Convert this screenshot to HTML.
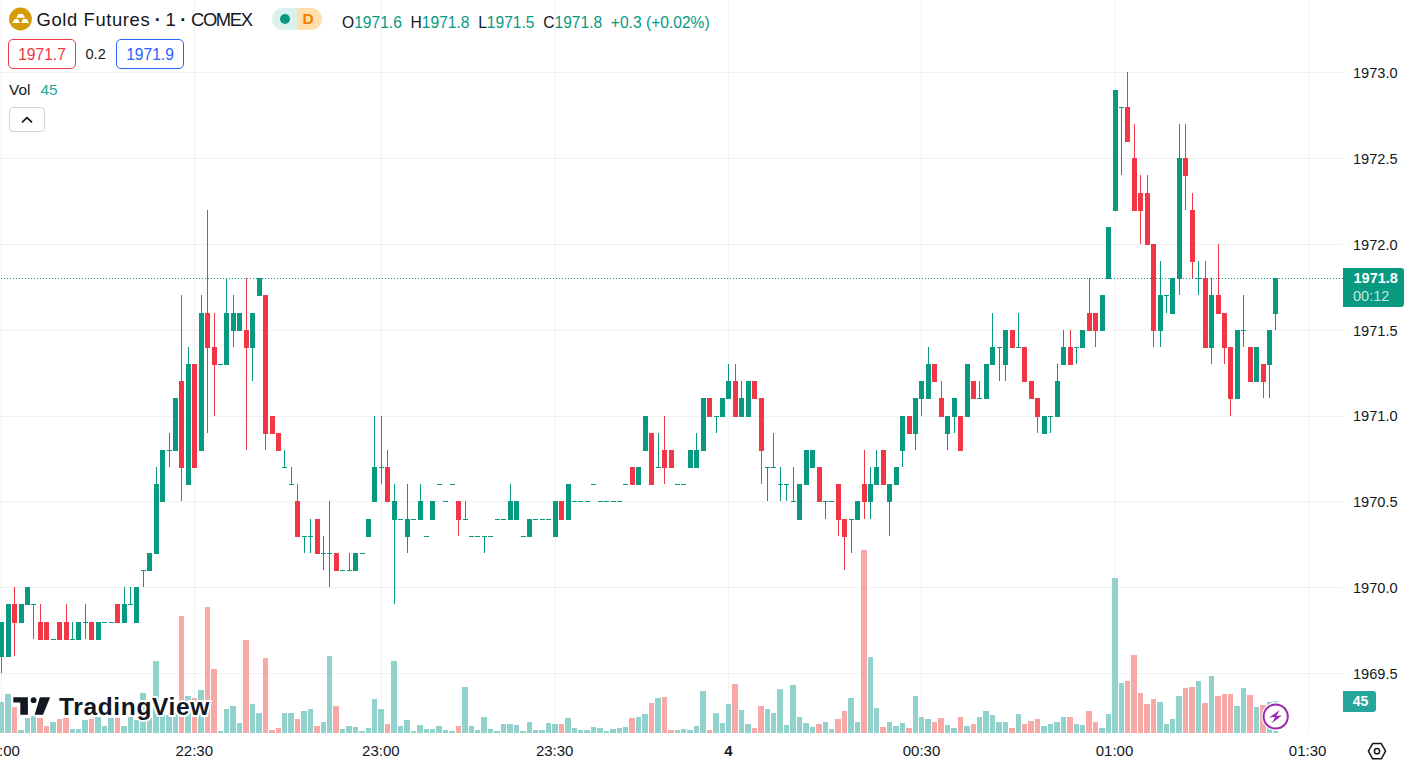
<!DOCTYPE html>
<html lang="en"><head><meta charset="utf-8"><title>Gold Futures · 1 · COMEX</title>
<style>
html,body{margin:0;padding:0;background:#fff;}
body{width:1406px;height:770px;position:relative;overflow:hidden;font-family:"Liberation Sans",sans-serif;color:#131722;}
.chart{position:absolute;left:0;top:0;}
.abs{position:absolute;white-space:nowrap;}
.pl{position:absolute;left:1343px;width:63px;height:20px;line-height:20px;font-size:14.6px;text-align:left;padding-left:10px;box-sizing:border-box;}
.tl{position:absolute;top:740.5px;width:60px;height:20px;line-height:20px;font-size:15px;text-align:center;}
.tl.b{font-weight:700;}
.title{left:36.5px;top:8.5px;font-size:18.4px;line-height:22px;}
.t1{letter-spacing:0.62px;}.t2{word-spacing:-0.55px;}.t3{letter-spacing:-1.35px;}
.pill{left:272px;top:8px;width:50px;height:22px;border-radius:11px;overflow:hidden;background:linear-gradient(90deg,#daf1ed 0,#daf1ed 25px,#ffdfae 25px,#ffdfae 50px);}
.pill i{position:absolute;left:8px;top:6px;width:10.4px;height:10.4px;border-radius:50%;background:#089981;}
.pill b{position:absolute;left:30.5px;top:0;line-height:22px;font-size:15.5px;color:#f57c00;}
.stats{left:342px;top:11.8px;font-size:15.6px;line-height:22px;color:#089981;}
.stats i{font-style:normal;color:#131722;}
.box{top:39px;height:30px;line-height:30px;box-sizing:border-box;border:1px solid;border-radius:5px;font-size:15.6px;text-align:center;}
.bid{left:8px;width:68px;border-color:#f23645;color:#f23645;}
.ask{left:116px;width:68px;border-color:#2962ff;color:#2962ff;}
.spr{left:85.5px;top:39px;line-height:30px;font-size:14.6px;}
.vol{left:9px;top:78.5px;line-height:22px;font-size:15.4px;}
.vol span{color:#26a69a;margin-left:10px;}
.btn{left:9px;top:107px;width:36px;height:25px;box-sizing:border-box;border:1px solid #d1d4dc;border-radius:4px;background:#fff;}
.plast{left:1343px;top:268px;width:61px;height:39px;background:#089981;border-radius:0 3px 3px 0;color:#fff;font-size:14.5px;}
.plast b{position:absolute;left:10.5px;top:0.3px;line-height:20px;}
.plast span{position:absolute;left:10px;top:18.4px;line-height:20px;color:#c3e6df;}
.vlast{left:1343px;top:691px;width:33px;height:21px;background:#26a69a;border-radius:0 3px 3px 0;color:#fff;font-size:14px;font-weight:700;line-height:21px;text-align:center;padding-left:2px;box-sizing:border-box;}
.tv{left:59px;top:692.7px;font-size:24.5px;line-height:28px;font-weight:700;letter-spacing:0.65px;color:#131722;-webkit-text-stroke:4px #fff;paint-order:stroke fill;}
</style></head><body>
<svg class="chart" width="1406" height="770" viewBox="0 0 1406 770" shape-rendering="crispEdges">
<g fill="rgba(60,80,70,0.07)">
<rect x="0" y="673" width="1343" height="1"/>
<rect x="0" y="587" width="1343" height="1"/>
<rect x="0" y="501" width="1343" height="1"/>
<rect x="0" y="416" width="1343" height="1"/>
<rect x="0" y="330" width="1343" height="1"/>
<rect x="0" y="244" width="1343" height="1"/>
<rect x="0" y="158" width="1343" height="1"/>
<rect x="0" y="72" width="1343" height="1"/>
<rect x="1" y="0" width="1" height="733"/>
<rect x="194" y="0" width="1" height="733"/>
<rect x="381" y="0" width="1" height="733"/>
<rect x="555" y="0" width="1" height="733"/>
<rect x="728" y="0" width="1" height="733"/>
<rect x="921" y="0" width="1" height="733"/>
<rect x="1115" y="0" width="1" height="733"/>
<rect x="1308" y="0" width="1" height="733"/>
</g>
<g fill="#92d2cc"><rect x="0" y="702" width="4" height="31"/><rect x="5" y="694" width="6" height="39"/><rect x="18" y="730" width="6" height="3"/><rect x="25" y="718" width="5" height="15"/><rect x="31" y="716" width="5" height="17"/><rect x="50" y="722" width="6" height="11"/><rect x="70" y="729" width="5" height="4"/><rect x="76" y="729" width="5" height="4"/><rect x="82" y="720" width="6" height="13"/><rect x="95" y="717" width="6" height="16"/><rect x="102" y="726" width="5" height="7"/><rect x="108" y="718" width="6" height="15"/><rect x="121" y="726" width="6" height="7"/><rect x="128" y="717" width="5" height="16"/><rect x="134" y="720" width="5" height="13"/><rect x="140" y="693" width="6" height="40"/><rect x="147" y="718" width="5" height="15"/><rect x="153" y="661" width="6" height="72"/><rect x="160" y="714" width="5" height="19"/><rect x="166" y="715" width="6" height="18"/><rect x="173" y="710" width="5" height="23"/><rect x="185" y="696" width="6" height="37"/><rect x="198" y="690" width="6" height="43"/><rect x="218" y="731" width="5" height="2"/><rect x="224" y="709" width="5" height="24"/><rect x="230" y="706" width="6" height="27"/><rect x="237" y="723" width="5" height="10"/><rect x="250" y="704" width="5" height="29"/><rect x="256" y="713" width="6" height="20"/><rect x="282" y="713" width="5" height="20"/><rect x="288" y="713" width="6" height="20"/><rect x="301" y="711" width="6" height="22"/><rect x="308" y="709" width="5" height="24"/><rect x="321" y="722" width="5" height="11"/><rect x="327" y="656" width="5" height="77"/><rect x="340" y="729" width="5" height="4"/><rect x="346" y="726" width="6" height="7"/><rect x="353" y="727" width="5" height="6"/><rect x="359" y="731" width="6" height="2"/><rect x="366" y="728" width="5" height="5"/><rect x="372" y="699" width="5" height="34"/><rect x="378" y="709" width="6" height="24"/><rect x="391" y="661" width="6" height="72"/><rect x="398" y="726" width="5" height="7"/><rect x="404" y="720" width="6" height="13"/><rect x="411" y="731" width="5" height="2"/><rect x="417" y="725" width="6" height="8"/><rect x="424" y="729" width="5" height="4"/><rect x="430" y="729" width="5" height="4"/><rect x="436" y="726" width="6" height="7"/><rect x="443" y="730" width="5" height="3"/><rect x="449" y="731" width="6" height="2"/><rect x="462" y="687" width="6" height="46"/><rect x="469" y="726" width="5" height="7"/><rect x="475" y="730" width="5" height="3"/><rect x="481" y="717" width="6" height="16"/><rect x="488" y="729" width="5" height="4"/><rect x="494" y="731" width="6" height="2"/><rect x="501" y="724" width="5" height="9"/><rect x="507" y="724" width="6" height="9"/><rect x="514" y="725" width="5" height="8"/><rect x="520" y="731" width="6" height="2"/><rect x="527" y="722" width="5" height="11"/><rect x="533" y="730" width="5" height="3"/><rect x="539" y="730" width="6" height="3"/><rect x="546" y="723" width="5" height="10"/><rect x="552" y="724" width="6" height="9"/><rect x="565" y="718" width="6" height="15"/><rect x="572" y="728" width="5" height="5"/><rect x="578" y="730" width="5" height="3"/><rect x="584" y="730" width="6" height="3"/><rect x="591" y="727" width="5" height="6"/><rect x="597" y="728" width="6" height="5"/><rect x="604" y="731" width="5" height="2"/><rect x="610" y="729" width="6" height="4"/><rect x="617" y="728" width="5" height="5"/><rect x="623" y="727" width="5" height="6"/><rect x="636" y="717" width="5" height="16"/><rect x="642" y="714" width="6" height="19"/><rect x="655" y="698" width="6" height="35"/><rect x="675" y="730" width="5" height="3"/><rect x="681" y="729" width="5" height="4"/><rect x="687" y="730" width="6" height="3"/><rect x="694" y="726" width="5" height="7"/><rect x="700" y="691" width="6" height="42"/><rect x="713" y="713" width="6" height="20"/><rect x="720" y="723" width="5" height="10"/><rect x="726" y="704" width="5" height="29"/><rect x="739" y="710" width="5" height="23"/><rect x="745" y="724" width="6" height="9"/><rect x="765" y="709" width="5" height="24"/><rect x="771" y="713" width="5" height="20"/><rect x="777" y="689" width="6" height="44"/><rect x="784" y="725" width="5" height="8"/><rect x="790" y="685" width="6" height="48"/><rect x="797" y="717" width="5" height="16"/><rect x="803" y="723" width="6" height="10"/><rect x="810" y="727" width="5" height="6"/><rect x="823" y="722" width="5" height="11"/><rect x="829" y="729" width="5" height="4"/><rect x="848" y="698" width="6" height="35"/><rect x="855" y="722" width="5" height="11"/><rect x="868" y="657" width="5" height="76"/><rect x="874" y="708" width="5" height="25"/><rect x="887" y="722" width="5" height="11"/><rect x="893" y="726" width="6" height="7"/><rect x="900" y="723" width="5" height="10"/><rect x="913" y="696" width="5" height="37"/><rect x="919" y="717" width="5" height="16"/><rect x="925" y="719" width="6" height="14"/><rect x="945" y="725" width="5" height="8"/><rect x="951" y="728" width="6" height="5"/><rect x="964" y="726" width="6" height="7"/><rect x="977" y="717" width="5" height="16"/><rect x="983" y="711" width="6" height="22"/><rect x="990" y="715" width="5" height="18"/><rect x="996" y="722" width="6" height="11"/><rect x="1003" y="722" width="5" height="11"/><rect x="1016" y="714" width="5" height="19"/><rect x="1041" y="726" width="6" height="7"/><rect x="1048" y="724" width="5" height="9"/><rect x="1054" y="722" width="6" height="11"/><rect x="1061" y="717" width="5" height="16"/><rect x="1074" y="724" width="5" height="9"/><rect x="1080" y="725" width="5" height="8"/><rect x="1099" y="728" width="6" height="5"/><rect x="1106" y="714" width="5" height="19"/><rect x="1112" y="578" width="6" height="155"/><rect x="1119" y="683" width="5" height="50"/><rect x="1157" y="702" width="6" height="31"/><rect x="1164" y="724" width="5" height="9"/><rect x="1170" y="719" width="5" height="14"/><rect x="1176" y="696" width="6" height="37"/><rect x="1196" y="681" width="5" height="52"/><rect x="1209" y="676" width="5" height="57"/><rect x="1234" y="706" width="6" height="27"/><rect x="1241" y="688" width="5" height="45"/><rect x="1254" y="707" width="5" height="26"/><rect x="1267" y="702" width="5" height="31"/></g>
<g fill="#f7a9a7"><rect x="12" y="707" width="5" height="26"/><rect x="37" y="718" width="6" height="15"/><rect x="44" y="726" width="5" height="7"/><rect x="57" y="719" width="5" height="14"/><rect x="63" y="718" width="6" height="15"/><rect x="89" y="719" width="5" height="14"/><rect x="115" y="718" width="5" height="15"/><rect x="179" y="616" width="5" height="117"/><rect x="192" y="698" width="5" height="35"/><rect x="205" y="607" width="5" height="126"/><rect x="211" y="669" width="6" height="64"/><rect x="243" y="640" width="6" height="93"/><rect x="263" y="658" width="5" height="75"/><rect x="269" y="730" width="6" height="3"/><rect x="276" y="728" width="5" height="5"/><rect x="295" y="719" width="5" height="14"/><rect x="314" y="726" width="6" height="7"/><rect x="333" y="706" width="6" height="27"/><rect x="385" y="724" width="5" height="9"/><rect x="456" y="726" width="5" height="7"/><rect x="559" y="724" width="5" height="9"/><rect x="629" y="718" width="6" height="15"/><rect x="649" y="703" width="5" height="30"/><rect x="662" y="697" width="5" height="36"/><rect x="668" y="730" width="6" height="3"/><rect x="707" y="730" width="5" height="3"/><rect x="732" y="684" width="6" height="49"/><rect x="752" y="728" width="5" height="5"/><rect x="758" y="706" width="6" height="27"/><rect x="816" y="724" width="6" height="9"/><rect x="835" y="719" width="6" height="14"/><rect x="842" y="711" width="5" height="22"/><rect x="861" y="550" width="6" height="183"/><rect x="880" y="727" width="6" height="6"/><rect x="906" y="728" width="6" height="5"/><rect x="932" y="722" width="5" height="11"/><rect x="938" y="718" width="6" height="15"/><rect x="958" y="717" width="5" height="16"/><rect x="971" y="724" width="5" height="9"/><rect x="1009" y="728" width="6" height="5"/><rect x="1022" y="724" width="5" height="9"/><rect x="1028" y="721" width="6" height="12"/><rect x="1035" y="719" width="5" height="14"/><rect x="1067" y="717" width="6" height="16"/><rect x="1086" y="711" width="6" height="22"/><rect x="1093" y="722" width="5" height="11"/><rect x="1125" y="681" width="5" height="52"/><rect x="1131" y="655" width="6" height="78"/><rect x="1138" y="693" width="5" height="40"/><rect x="1144" y="704" width="6" height="29"/><rect x="1151" y="699" width="5" height="34"/><rect x="1183" y="688" width="5" height="45"/><rect x="1189" y="687" width="6" height="46"/><rect x="1202" y="703" width="6" height="30"/><rect x="1215" y="696" width="6" height="37"/><rect x="1222" y="694" width="5" height="39"/><rect x="1228" y="694" width="5" height="39"/><rect x="1247" y="695" width="6" height="38"/><rect x="1260" y="705" width="6" height="28"/></g>
<rect x="1273" y="701" width="5" height="32" fill="#e6f5f3"/>
<rect x="1273" y="701" width="5" height="1" fill="#92d2cc"/>
<rect x="1273" y="731" width="5" height="2" fill="#92d2cc"/>
<g fill="#089981">
<rect x="1" y="278" width="1" height="1"/><rect x="4" y="278" width="1" height="1"/><rect x="7" y="278" width="1" height="1"/><rect x="10" y="278" width="1" height="1"/><rect x="13" y="278" width="1" height="1"/><rect x="16" y="278" width="1" height="1"/><rect x="19" y="278" width="1" height="1"/><rect x="22" y="278" width="1" height="1"/><rect x="25" y="278" width="1" height="1"/><rect x="28" y="278" width="1" height="1"/><rect x="31" y="278" width="1" height="1"/><rect x="34" y="278" width="1" height="1"/><rect x="37" y="278" width="1" height="1"/><rect x="40" y="278" width="1" height="1"/><rect x="43" y="278" width="1" height="1"/><rect x="46" y="278" width="1" height="1"/><rect x="49" y="278" width="1" height="1"/><rect x="52" y="278" width="1" height="1"/><rect x="55" y="278" width="1" height="1"/><rect x="58" y="278" width="1" height="1"/><rect x="61" y="278" width="1" height="1"/><rect x="64" y="278" width="1" height="1"/><rect x="67" y="278" width="1" height="1"/><rect x="70" y="278" width="1" height="1"/><rect x="73" y="278" width="1" height="1"/><rect x="76" y="278" width="1" height="1"/><rect x="79" y="278" width="1" height="1"/><rect x="82" y="278" width="1" height="1"/><rect x="85" y="278" width="1" height="1"/><rect x="88" y="278" width="1" height="1"/><rect x="91" y="278" width="1" height="1"/><rect x="94" y="278" width="1" height="1"/><rect x="97" y="278" width="1" height="1"/><rect x="100" y="278" width="1" height="1"/><rect x="103" y="278" width="1" height="1"/><rect x="106" y="278" width="1" height="1"/><rect x="109" y="278" width="1" height="1"/><rect x="112" y="278" width="1" height="1"/><rect x="115" y="278" width="1" height="1"/><rect x="118" y="278" width="1" height="1"/><rect x="121" y="278" width="1" height="1"/><rect x="124" y="278" width="1" height="1"/><rect x="127" y="278" width="1" height="1"/><rect x="130" y="278" width="1" height="1"/><rect x="133" y="278" width="1" height="1"/><rect x="136" y="278" width="1" height="1"/><rect x="139" y="278" width="1" height="1"/><rect x="142" y="278" width="1" height="1"/><rect x="145" y="278" width="1" height="1"/><rect x="148" y="278" width="1" height="1"/><rect x="151" y="278" width="1" height="1"/><rect x="154" y="278" width="1" height="1"/><rect x="157" y="278" width="1" height="1"/><rect x="160" y="278" width="1" height="1"/><rect x="163" y="278" width="1" height="1"/><rect x="166" y="278" width="1" height="1"/><rect x="169" y="278" width="1" height="1"/><rect x="172" y="278" width="1" height="1"/><rect x="175" y="278" width="1" height="1"/><rect x="178" y="278" width="1" height="1"/><rect x="181" y="278" width="1" height="1"/><rect x="184" y="278" width="1" height="1"/><rect x="187" y="278" width="1" height="1"/><rect x="190" y="278" width="1" height="1"/><rect x="193" y="278" width="1" height="1"/><rect x="196" y="278" width="1" height="1"/><rect x="199" y="278" width="1" height="1"/><rect x="202" y="278" width="1" height="1"/><rect x="205" y="278" width="1" height="1"/><rect x="208" y="278" width="1" height="1"/><rect x="211" y="278" width="1" height="1"/><rect x="214" y="278" width="1" height="1"/><rect x="217" y="278" width="1" height="1"/><rect x="220" y="278" width="1" height="1"/><rect x="223" y="278" width="1" height="1"/><rect x="226" y="278" width="1" height="1"/><rect x="229" y="278" width="1" height="1"/><rect x="232" y="278" width="1" height="1"/><rect x="235" y="278" width="1" height="1"/><rect x="238" y="278" width="1" height="1"/><rect x="241" y="278" width="1" height="1"/><rect x="244" y="278" width="1" height="1"/><rect x="247" y="278" width="1" height="1"/><rect x="250" y="278" width="1" height="1"/><rect x="253" y="278" width="1" height="1"/><rect x="256" y="278" width="1" height="1"/><rect x="259" y="278" width="1" height="1"/><rect x="262" y="278" width="1" height="1"/><rect x="265" y="278" width="1" height="1"/><rect x="268" y="278" width="1" height="1"/><rect x="271" y="278" width="1" height="1"/><rect x="274" y="278" width="1" height="1"/><rect x="277" y="278" width="1" height="1"/><rect x="280" y="278" width="1" height="1"/><rect x="283" y="278" width="1" height="1"/><rect x="286" y="278" width="1" height="1"/><rect x="289" y="278" width="1" height="1"/><rect x="292" y="278" width="1" height="1"/><rect x="295" y="278" width="1" height="1"/><rect x="298" y="278" width="1" height="1"/><rect x="301" y="278" width="1" height="1"/><rect x="304" y="278" width="1" height="1"/><rect x="307" y="278" width="1" height="1"/><rect x="310" y="278" width="1" height="1"/><rect x="313" y="278" width="1" height="1"/><rect x="316" y="278" width="1" height="1"/><rect x="319" y="278" width="1" height="1"/><rect x="322" y="278" width="1" height="1"/><rect x="325" y="278" width="1" height="1"/><rect x="328" y="278" width="1" height="1"/><rect x="331" y="278" width="1" height="1"/><rect x="334" y="278" width="1" height="1"/><rect x="337" y="278" width="1" height="1"/><rect x="340" y="278" width="1" height="1"/><rect x="343" y="278" width="1" height="1"/><rect x="346" y="278" width="1" height="1"/><rect x="349" y="278" width="1" height="1"/><rect x="352" y="278" width="1" height="1"/><rect x="355" y="278" width="1" height="1"/><rect x="358" y="278" width="1" height="1"/><rect x="361" y="278" width="1" height="1"/><rect x="364" y="278" width="1" height="1"/><rect x="367" y="278" width="1" height="1"/><rect x="370" y="278" width="1" height="1"/><rect x="373" y="278" width="1" height="1"/><rect x="376" y="278" width="1" height="1"/><rect x="379" y="278" width="1" height="1"/><rect x="382" y="278" width="1" height="1"/><rect x="385" y="278" width="1" height="1"/><rect x="388" y="278" width="1" height="1"/><rect x="391" y="278" width="1" height="1"/><rect x="394" y="278" width="1" height="1"/><rect x="397" y="278" width="1" height="1"/><rect x="400" y="278" width="1" height="1"/><rect x="403" y="278" width="1" height="1"/><rect x="406" y="278" width="1" height="1"/><rect x="409" y="278" width="1" height="1"/><rect x="412" y="278" width="1" height="1"/><rect x="415" y="278" width="1" height="1"/><rect x="418" y="278" width="1" height="1"/><rect x="421" y="278" width="1" height="1"/><rect x="424" y="278" width="1" height="1"/><rect x="427" y="278" width="1" height="1"/><rect x="430" y="278" width="1" height="1"/><rect x="433" y="278" width="1" height="1"/><rect x="436" y="278" width="1" height="1"/><rect x="439" y="278" width="1" height="1"/><rect x="442" y="278" width="1" height="1"/><rect x="445" y="278" width="1" height="1"/><rect x="448" y="278" width="1" height="1"/><rect x="451" y="278" width="1" height="1"/><rect x="454" y="278" width="1" height="1"/><rect x="457" y="278" width="1" height="1"/><rect x="460" y="278" width="1" height="1"/><rect x="463" y="278" width="1" height="1"/><rect x="466" y="278" width="1" height="1"/><rect x="469" y="278" width="1" height="1"/><rect x="472" y="278" width="1" height="1"/><rect x="475" y="278" width="1" height="1"/><rect x="478" y="278" width="1" height="1"/><rect x="481" y="278" width="1" height="1"/><rect x="484" y="278" width="1" height="1"/><rect x="487" y="278" width="1" height="1"/><rect x="490" y="278" width="1" height="1"/><rect x="493" y="278" width="1" height="1"/><rect x="496" y="278" width="1" height="1"/><rect x="499" y="278" width="1" height="1"/><rect x="502" y="278" width="1" height="1"/><rect x="505" y="278" width="1" height="1"/><rect x="508" y="278" width="1" height="1"/><rect x="511" y="278" width="1" height="1"/><rect x="514" y="278" width="1" height="1"/><rect x="517" y="278" width="1" height="1"/><rect x="520" y="278" width="1" height="1"/><rect x="523" y="278" width="1" height="1"/><rect x="526" y="278" width="1" height="1"/><rect x="529" y="278" width="1" height="1"/><rect x="532" y="278" width="1" height="1"/><rect x="535" y="278" width="1" height="1"/><rect x="538" y="278" width="1" height="1"/><rect x="541" y="278" width="1" height="1"/><rect x="544" y="278" width="1" height="1"/><rect x="547" y="278" width="1" height="1"/><rect x="550" y="278" width="1" height="1"/><rect x="553" y="278" width="1" height="1"/><rect x="556" y="278" width="1" height="1"/><rect x="559" y="278" width="1" height="1"/><rect x="562" y="278" width="1" height="1"/><rect x="565" y="278" width="1" height="1"/><rect x="568" y="278" width="1" height="1"/><rect x="571" y="278" width="1" height="1"/><rect x="574" y="278" width="1" height="1"/><rect x="577" y="278" width="1" height="1"/><rect x="580" y="278" width="1" height="1"/><rect x="583" y="278" width="1" height="1"/><rect x="586" y="278" width="1" height="1"/><rect x="589" y="278" width="1" height="1"/><rect x="592" y="278" width="1" height="1"/><rect x="595" y="278" width="1" height="1"/><rect x="598" y="278" width="1" height="1"/><rect x="601" y="278" width="1" height="1"/><rect x="604" y="278" width="1" height="1"/><rect x="607" y="278" width="1" height="1"/><rect x="610" y="278" width="1" height="1"/><rect x="613" y="278" width="1" height="1"/><rect x="616" y="278" width="1" height="1"/><rect x="619" y="278" width="1" height="1"/><rect x="622" y="278" width="1" height="1"/><rect x="625" y="278" width="1" height="1"/><rect x="628" y="278" width="1" height="1"/><rect x="631" y="278" width="1" height="1"/><rect x="634" y="278" width="1" height="1"/><rect x="637" y="278" width="1" height="1"/><rect x="640" y="278" width="1" height="1"/><rect x="643" y="278" width="1" height="1"/><rect x="646" y="278" width="1" height="1"/><rect x="649" y="278" width="1" height="1"/><rect x="652" y="278" width="1" height="1"/><rect x="655" y="278" width="1" height="1"/><rect x="658" y="278" width="1" height="1"/><rect x="661" y="278" width="1" height="1"/><rect x="664" y="278" width="1" height="1"/><rect x="667" y="278" width="1" height="1"/><rect x="670" y="278" width="1" height="1"/><rect x="673" y="278" width="1" height="1"/><rect x="676" y="278" width="1" height="1"/><rect x="679" y="278" width="1" height="1"/><rect x="682" y="278" width="1" height="1"/><rect x="685" y="278" width="1" height="1"/><rect x="688" y="278" width="1" height="1"/><rect x="691" y="278" width="1" height="1"/><rect x="694" y="278" width="1" height="1"/><rect x="697" y="278" width="1" height="1"/><rect x="700" y="278" width="1" height="1"/><rect x="703" y="278" width="1" height="1"/><rect x="706" y="278" width="1" height="1"/><rect x="709" y="278" width="1" height="1"/><rect x="712" y="278" width="1" height="1"/><rect x="715" y="278" width="1" height="1"/><rect x="718" y="278" width="1" height="1"/><rect x="721" y="278" width="1" height="1"/><rect x="724" y="278" width="1" height="1"/><rect x="727" y="278" width="1" height="1"/><rect x="730" y="278" width="1" height="1"/><rect x="733" y="278" width="1" height="1"/><rect x="736" y="278" width="1" height="1"/><rect x="739" y="278" width="1" height="1"/><rect x="742" y="278" width="1" height="1"/><rect x="745" y="278" width="1" height="1"/><rect x="748" y="278" width="1" height="1"/><rect x="751" y="278" width="1" height="1"/><rect x="754" y="278" width="1" height="1"/><rect x="757" y="278" width="1" height="1"/><rect x="760" y="278" width="1" height="1"/><rect x="763" y="278" width="1" height="1"/><rect x="766" y="278" width="1" height="1"/><rect x="769" y="278" width="1" height="1"/><rect x="772" y="278" width="1" height="1"/><rect x="775" y="278" width="1" height="1"/><rect x="778" y="278" width="1" height="1"/><rect x="781" y="278" width="1" height="1"/><rect x="784" y="278" width="1" height="1"/><rect x="787" y="278" width="1" height="1"/><rect x="790" y="278" width="1" height="1"/><rect x="793" y="278" width="1" height="1"/><rect x="796" y="278" width="1" height="1"/><rect x="799" y="278" width="1" height="1"/><rect x="802" y="278" width="1" height="1"/><rect x="805" y="278" width="1" height="1"/><rect x="808" y="278" width="1" height="1"/><rect x="811" y="278" width="1" height="1"/><rect x="814" y="278" width="1" height="1"/><rect x="817" y="278" width="1" height="1"/><rect x="820" y="278" width="1" height="1"/><rect x="823" y="278" width="1" height="1"/><rect x="826" y="278" width="1" height="1"/><rect x="829" y="278" width="1" height="1"/><rect x="832" y="278" width="1" height="1"/><rect x="835" y="278" width="1" height="1"/><rect x="838" y="278" width="1" height="1"/><rect x="841" y="278" width="1" height="1"/><rect x="844" y="278" width="1" height="1"/><rect x="847" y="278" width="1" height="1"/><rect x="850" y="278" width="1" height="1"/><rect x="853" y="278" width="1" height="1"/><rect x="856" y="278" width="1" height="1"/><rect x="859" y="278" width="1" height="1"/><rect x="862" y="278" width="1" height="1"/><rect x="865" y="278" width="1" height="1"/><rect x="868" y="278" width="1" height="1"/><rect x="871" y="278" width="1" height="1"/><rect x="874" y="278" width="1" height="1"/><rect x="877" y="278" width="1" height="1"/><rect x="880" y="278" width="1" height="1"/><rect x="883" y="278" width="1" height="1"/><rect x="886" y="278" width="1" height="1"/><rect x="889" y="278" width="1" height="1"/><rect x="892" y="278" width="1" height="1"/><rect x="895" y="278" width="1" height="1"/><rect x="898" y="278" width="1" height="1"/><rect x="901" y="278" width="1" height="1"/><rect x="904" y="278" width="1" height="1"/><rect x="907" y="278" width="1" height="1"/><rect x="910" y="278" width="1" height="1"/><rect x="913" y="278" width="1" height="1"/><rect x="916" y="278" width="1" height="1"/><rect x="919" y="278" width="1" height="1"/><rect x="922" y="278" width="1" height="1"/><rect x="925" y="278" width="1" height="1"/><rect x="928" y="278" width="1" height="1"/><rect x="931" y="278" width="1" height="1"/><rect x="934" y="278" width="1" height="1"/><rect x="937" y="278" width="1" height="1"/><rect x="940" y="278" width="1" height="1"/><rect x="943" y="278" width="1" height="1"/><rect x="946" y="278" width="1" height="1"/><rect x="949" y="278" width="1" height="1"/><rect x="952" y="278" width="1" height="1"/><rect x="955" y="278" width="1" height="1"/><rect x="958" y="278" width="1" height="1"/><rect x="961" y="278" width="1" height="1"/><rect x="964" y="278" width="1" height="1"/><rect x="967" y="278" width="1" height="1"/><rect x="970" y="278" width="1" height="1"/><rect x="973" y="278" width="1" height="1"/><rect x="976" y="278" width="1" height="1"/><rect x="979" y="278" width="1" height="1"/><rect x="982" y="278" width="1" height="1"/><rect x="985" y="278" width="1" height="1"/><rect x="988" y="278" width="1" height="1"/><rect x="991" y="278" width="1" height="1"/><rect x="994" y="278" width="1" height="1"/><rect x="997" y="278" width="1" height="1"/><rect x="1000" y="278" width="1" height="1"/><rect x="1003" y="278" width="1" height="1"/><rect x="1006" y="278" width="1" height="1"/><rect x="1009" y="278" width="1" height="1"/><rect x="1012" y="278" width="1" height="1"/><rect x="1015" y="278" width="1" height="1"/><rect x="1018" y="278" width="1" height="1"/><rect x="1021" y="278" width="1" height="1"/><rect x="1024" y="278" width="1" height="1"/><rect x="1027" y="278" width="1" height="1"/><rect x="1030" y="278" width="1" height="1"/><rect x="1033" y="278" width="1" height="1"/><rect x="1036" y="278" width="1" height="1"/><rect x="1039" y="278" width="1" height="1"/><rect x="1042" y="278" width="1" height="1"/><rect x="1045" y="278" width="1" height="1"/><rect x="1048" y="278" width="1" height="1"/><rect x="1051" y="278" width="1" height="1"/><rect x="1054" y="278" width="1" height="1"/><rect x="1057" y="278" width="1" height="1"/><rect x="1060" y="278" width="1" height="1"/><rect x="1063" y="278" width="1" height="1"/><rect x="1066" y="278" width="1" height="1"/><rect x="1069" y="278" width="1" height="1"/><rect x="1072" y="278" width="1" height="1"/><rect x="1075" y="278" width="1" height="1"/><rect x="1078" y="278" width="1" height="1"/><rect x="1081" y="278" width="1" height="1"/><rect x="1084" y="278" width="1" height="1"/><rect x="1087" y="278" width="1" height="1"/><rect x="1090" y="278" width="1" height="1"/><rect x="1093" y="278" width="1" height="1"/><rect x="1096" y="278" width="1" height="1"/><rect x="1099" y="278" width="1" height="1"/><rect x="1102" y="278" width="1" height="1"/><rect x="1105" y="278" width="1" height="1"/><rect x="1108" y="278" width="1" height="1"/><rect x="1111" y="278" width="1" height="1"/><rect x="1114" y="278" width="1" height="1"/><rect x="1117" y="278" width="1" height="1"/><rect x="1120" y="278" width="1" height="1"/><rect x="1123" y="278" width="1" height="1"/><rect x="1126" y="278" width="1" height="1"/><rect x="1129" y="278" width="1" height="1"/><rect x="1132" y="278" width="1" height="1"/><rect x="1135" y="278" width="1" height="1"/><rect x="1138" y="278" width="1" height="1"/><rect x="1141" y="278" width="1" height="1"/><rect x="1144" y="278" width="1" height="1"/><rect x="1147" y="278" width="1" height="1"/><rect x="1150" y="278" width="1" height="1"/><rect x="1153" y="278" width="1" height="1"/><rect x="1156" y="278" width="1" height="1"/><rect x="1159" y="278" width="1" height="1"/><rect x="1162" y="278" width="1" height="1"/><rect x="1165" y="278" width="1" height="1"/><rect x="1168" y="278" width="1" height="1"/><rect x="1171" y="278" width="1" height="1"/><rect x="1174" y="278" width="1" height="1"/><rect x="1177" y="278" width="1" height="1"/><rect x="1180" y="278" width="1" height="1"/><rect x="1183" y="278" width="1" height="1"/><rect x="1186" y="278" width="1" height="1"/><rect x="1189" y="278" width="1" height="1"/><rect x="1192" y="278" width="1" height="1"/><rect x="1195" y="278" width="1" height="1"/><rect x="1198" y="278" width="1" height="1"/><rect x="1201" y="278" width="1" height="1"/><rect x="1204" y="278" width="1" height="1"/><rect x="1207" y="278" width="1" height="1"/><rect x="1210" y="278" width="1" height="1"/><rect x="1213" y="278" width="1" height="1"/><rect x="1216" y="278" width="1" height="1"/><rect x="1219" y="278" width="1" height="1"/><rect x="1222" y="278" width="1" height="1"/><rect x="1225" y="278" width="1" height="1"/><rect x="1228" y="278" width="1" height="1"/><rect x="1231" y="278" width="1" height="1"/><rect x="1234" y="278" width="1" height="1"/><rect x="1237" y="278" width="1" height="1"/><rect x="1240" y="278" width="1" height="1"/><rect x="1243" y="278" width="1" height="1"/><rect x="1246" y="278" width="1" height="1"/><rect x="1249" y="278" width="1" height="1"/><rect x="1252" y="278" width="1" height="1"/><rect x="1255" y="278" width="1" height="1"/><rect x="1258" y="278" width="1" height="1"/><rect x="1261" y="278" width="1" height="1"/><rect x="1264" y="278" width="1" height="1"/><rect x="1267" y="278" width="1" height="1"/><rect x="1270" y="278" width="1" height="1"/><rect x="1273" y="278" width="1" height="1"/><rect x="1276" y="278" width="1" height="1"/><rect x="1279" y="278" width="1" height="1"/><rect x="1282" y="278" width="1" height="1"/><rect x="1285" y="278" width="1" height="1"/><rect x="1288" y="278" width="1" height="1"/><rect x="1291" y="278" width="1" height="1"/><rect x="1294" y="278" width="1" height="1"/><rect x="1297" y="278" width="1" height="1"/><rect x="1300" y="278" width="1" height="1"/><rect x="1303" y="278" width="1" height="1"/><rect x="1306" y="278" width="1" height="1"/><rect x="1309" y="278" width="1" height="1"/><rect x="1312" y="278" width="1" height="1"/><rect x="1315" y="278" width="1" height="1"/><rect x="1318" y="278" width="1" height="1"/><rect x="1321" y="278" width="1" height="1"/><rect x="1324" y="278" width="1" height="1"/><rect x="1327" y="278" width="1" height="1"/><rect x="1330" y="278" width="1" height="1"/><rect x="1333" y="278" width="1" height="1"/><rect x="1336" y="278" width="1" height="1"/><rect x="1339" y="278" width="1" height="1"/><rect x="1342" y="278" width="1" height="1"/>
</g>
<g fill="#089981"><rect x="1" y="622" width="1" height="51"/><rect x="0" y="622" width="4" height="35"/><rect x="6" y="604" width="5" height="53"/><rect x="19" y="604" width="5" height="19"/><rect x="25" y="587" width="5" height="18"/><rect x="33" y="604" width="1" height="35"/><rect x="31" y="604" width="5" height="1"/><rect x="51" y="639" width="5" height="1"/><rect x="72" y="622" width="1" height="17"/><rect x="70" y="639" width="5" height="1"/><rect x="76" y="622" width="5" height="18"/><rect x="85" y="604" width="1" height="35"/><rect x="83" y="622" width="5" height="1"/><rect x="96" y="622" width="5" height="18"/><rect x="102" y="622" width="5" height="1"/><rect x="109" y="622" width="5" height="1"/><rect x="124" y="587" width="1" height="35"/><rect x="122" y="604" width="5" height="19"/><rect x="130" y="587" width="1" height="17"/><rect x="128" y="604" width="5" height="1"/><rect x="134" y="587" width="5" height="36"/><rect x="143" y="570" width="1" height="17"/><rect x="141" y="570" width="5" height="1"/><rect x="147" y="553" width="5" height="18"/><rect x="156" y="467" width="1" height="86"/><rect x="154" y="484" width="5" height="70"/><rect x="160" y="450" width="5" height="52"/><rect x="169" y="433" width="1" height="34"/><rect x="167" y="450" width="5" height="1"/><rect x="173" y="398" width="5" height="53"/><rect x="188" y="347" width="1" height="137"/><rect x="186" y="364" width="5" height="121"/><rect x="201" y="295" width="1" height="155"/><rect x="199" y="313" width="5" height="138"/><rect x="218" y="364" width="5" height="1"/><rect x="226" y="278" width="1" height="86"/><rect x="224" y="313" width="5" height="52"/><rect x="233" y="295" width="1" height="52"/><rect x="231" y="313" width="5" height="18"/><rect x="237" y="313" width="5" height="18"/><rect x="252" y="313" width="1" height="68"/><rect x="250" y="313" width="5" height="35"/><rect x="257" y="278" width="5" height="18"/><rect x="284" y="450" width="1" height="17"/><rect x="282" y="467" width="5" height="1"/><rect x="291" y="467" width="1" height="17"/><rect x="289" y="484" width="5" height="1"/><rect x="304" y="536" width="1" height="17"/><rect x="302" y="536" width="5" height="1"/><rect x="310" y="519" width="1" height="34"/><rect x="308" y="536" width="5" height="1"/><rect x="323" y="536" width="1" height="34"/><rect x="321" y="553" width="5" height="1"/><rect x="329" y="501" width="1" height="86"/><rect x="327" y="553" width="5" height="1"/><rect x="340" y="570" width="5" height="1"/><rect x="349" y="553" width="1" height="17"/><rect x="347" y="570" width="5" height="1"/><rect x="353" y="553" width="5" height="18"/><rect x="360" y="553" width="5" height="1"/><rect x="366" y="519" width="5" height="18"/><rect x="374" y="416" width="1" height="85"/><rect x="372" y="467" width="5" height="35"/><rect x="381" y="416" width="1" height="68"/><rect x="379" y="467" width="5" height="1"/><rect x="394" y="484" width="1" height="120"/><rect x="392" y="501" width="5" height="19"/><rect x="398" y="519" width="5" height="1"/><rect x="407" y="484" width="1" height="69"/><rect x="405" y="519" width="5" height="18"/><rect x="411" y="519" width="5" height="1"/><rect x="420" y="484" width="1" height="35"/><rect x="418" y="501" width="5" height="19"/><rect x="424" y="536" width="5" height="1"/><rect x="430" y="501" width="5" height="19"/><rect x="437" y="484" width="5" height="1"/><rect x="443" y="501" width="5" height="1"/><rect x="450" y="484" width="5" height="1"/><rect x="465" y="501" width="1" height="18"/><rect x="463" y="519" width="5" height="1"/><rect x="469" y="536" width="5" height="1"/><rect x="475" y="536" width="5" height="1"/><rect x="484" y="536" width="1" height="17"/><rect x="482" y="536" width="5" height="1"/><rect x="488" y="536" width="5" height="1"/><rect x="495" y="519" width="5" height="1"/><rect x="501" y="519" width="5" height="1"/><rect x="510" y="484" width="1" height="35"/><rect x="508" y="501" width="5" height="19"/><rect x="514" y="501" width="5" height="19"/><rect x="521" y="536" width="5" height="1"/><rect x="527" y="519" width="5" height="18"/><rect x="533" y="519" width="5" height="1"/><rect x="540" y="519" width="5" height="1"/><rect x="546" y="519" width="5" height="1"/><rect x="553" y="501" width="5" height="36"/><rect x="566" y="484" width="5" height="36"/><rect x="572" y="501" width="5" height="1"/><rect x="578" y="501" width="5" height="1"/><rect x="585" y="501" width="5" height="1"/><rect x="591" y="484" width="5" height="1"/><rect x="598" y="501" width="5" height="1"/><rect x="604" y="501" width="5" height="1"/><rect x="611" y="501" width="5" height="1"/><rect x="617" y="501" width="5" height="1"/><rect x="623" y="484" width="5" height="1"/><rect x="636" y="467" width="5" height="18"/><rect x="643" y="416" width="5" height="35"/><rect x="658" y="433" width="1" height="34"/><rect x="656" y="467" width="5" height="1"/><rect x="675" y="484" width="5" height="1"/><rect x="681" y="484" width="5" height="1"/><rect x="688" y="450" width="5" height="18"/><rect x="696" y="433" width="1" height="34"/><rect x="694" y="450" width="5" height="18"/><rect x="701" y="398" width="5" height="53"/><rect x="716" y="416" width="1" height="17"/><rect x="714" y="416" width="5" height="1"/><rect x="720" y="398" width="5" height="19"/><rect x="728" y="364" width="1" height="34"/><rect x="726" y="381" width="5" height="18"/><rect x="741" y="381" width="1" height="35"/><rect x="739" y="398" width="5" height="19"/><rect x="746" y="381" width="5" height="36"/><rect x="767" y="467" width="1" height="34"/><rect x="765" y="467" width="5" height="1"/><rect x="773" y="433" width="1" height="34"/><rect x="771" y="467" width="5" height="1"/><rect x="780" y="467" width="1" height="34"/><rect x="778" y="484" width="5" height="1"/><rect x="786" y="484" width="1" height="17"/><rect x="784" y="484" width="5" height="1"/><rect x="793" y="467" width="1" height="34"/><rect x="791" y="501" width="5" height="1"/><rect x="797" y="484" width="5" height="36"/><rect x="804" y="450" width="5" height="35"/><rect x="810" y="450" width="5" height="18"/><rect x="825" y="501" width="1" height="18"/><rect x="823" y="501" width="5" height="1"/><rect x="829" y="501" width="5" height="1"/><rect x="851" y="519" width="1" height="34"/><rect x="849" y="519" width="5" height="1"/><rect x="855" y="501" width="5" height="19"/><rect x="870" y="467" width="1" height="52"/><rect x="868" y="484" width="5" height="18"/><rect x="876" y="450" width="1" height="34"/><rect x="874" y="467" width="5" height="18"/><rect x="889" y="484" width="1" height="52"/><rect x="887" y="484" width="5" height="18"/><rect x="894" y="467" width="5" height="18"/><rect x="902" y="416" width="1" height="51"/><rect x="900" y="416" width="5" height="35"/><rect x="915" y="398" width="1" height="52"/><rect x="913" y="398" width="5" height="36"/><rect x="921" y="381" width="1" height="35"/><rect x="919" y="381" width="5" height="18"/><rect x="928" y="347" width="1" height="51"/><rect x="926" y="364" width="5" height="35"/><rect x="947" y="416" width="1" height="34"/><rect x="945" y="416" width="5" height="18"/><rect x="954" y="398" width="1" height="35"/><rect x="952" y="398" width="5" height="19"/><rect x="965" y="364" width="5" height="53"/><rect x="979" y="381" width="1" height="17"/><rect x="977" y="398" width="5" height="1"/><rect x="984" y="364" width="5" height="35"/><rect x="992" y="313" width="1" height="51"/><rect x="990" y="347" width="5" height="18"/><rect x="999" y="347" width="1" height="34"/><rect x="997" y="347" width="5" height="1"/><rect x="1005" y="330" width="1" height="51"/><rect x="1003" y="330" width="5" height="35"/><rect x="1018" y="313" width="1" height="34"/><rect x="1016" y="347" width="5" height="1"/><rect x="1042" y="416" width="5" height="18"/><rect x="1050" y="416" width="1" height="17"/><rect x="1048" y="416" width="5" height="1"/><rect x="1057" y="364" width="1" height="52"/><rect x="1055" y="381" width="5" height="36"/><rect x="1063" y="330" width="1" height="34"/><rect x="1061" y="347" width="5" height="18"/><rect x="1076" y="347" width="1" height="17"/><rect x="1074" y="347" width="5" height="1"/><rect x="1080" y="330" width="5" height="18"/><rect x="1100" y="295" width="5" height="36"/><rect x="1106" y="227" width="5" height="52"/><rect x="1113" y="90" width="5" height="121"/><rect x="1121" y="107" width="1" height="68"/><rect x="1119" y="107" width="5" height="1"/><rect x="1160" y="261" width="1" height="86"/><rect x="1158" y="295" width="5" height="36"/><rect x="1166" y="295" width="1" height="18"/><rect x="1164" y="295" width="5" height="1"/><rect x="1170" y="278" width="5" height="36"/><rect x="1179" y="124" width="1" height="171"/><rect x="1177" y="158" width="5" height="121"/><rect x="1198" y="261" width="1" height="34"/><rect x="1196" y="278" width="5" height="1"/><rect x="1211" y="278" width="1" height="86"/><rect x="1209" y="295" width="5" height="53"/><rect x="1235" y="330" width="5" height="69"/><rect x="1243" y="295" width="1" height="52"/><rect x="1241" y="330" width="5" height="1"/><rect x="1254" y="347" width="5" height="35"/><rect x="1269" y="330" width="1" height="68"/><rect x="1267" y="330" width="5" height="35"/><rect x="1275" y="278" width="1" height="52"/><rect x="1273" y="278" width="5" height="36"/></g>
<g fill="#f23645"><rect x="14" y="587" width="1" height="69"/><rect x="12" y="604" width="5" height="19"/><rect x="40" y="604" width="1" height="35"/><rect x="38" y="622" width="5" height="18"/><rect x="44" y="622" width="5" height="18"/><rect x="57" y="622" width="5" height="18"/><rect x="66" y="604" width="1" height="35"/><rect x="64" y="622" width="5" height="18"/><rect x="89" y="622" width="5" height="18"/><rect x="115" y="604" width="5" height="19"/><rect x="181" y="295" width="1" height="206"/><rect x="179" y="381" width="5" height="87"/><rect x="192" y="364" width="5" height="104"/><rect x="207" y="210" width="1" height="223"/><rect x="205" y="313" width="5" height="35"/><rect x="214" y="313" width="1" height="103"/><rect x="212" y="347" width="5" height="18"/><rect x="246" y="278" width="1" height="172"/><rect x="244" y="330" width="5" height="18"/><rect x="265" y="295" width="1" height="155"/><rect x="263" y="295" width="5" height="139"/><rect x="270" y="416" width="5" height="18"/><rect x="276" y="433" width="5" height="18"/><rect x="297" y="484" width="1" height="52"/><rect x="295" y="501" width="5" height="36"/><rect x="315" y="519" width="5" height="35"/><rect x="334" y="553" width="5" height="18"/><rect x="387" y="450" width="1" height="51"/><rect x="385" y="467" width="5" height="35"/><rect x="458" y="501" width="1" height="35"/><rect x="456" y="501" width="5" height="19"/><rect x="559" y="501" width="5" height="19"/><rect x="630" y="467" width="5" height="18"/><rect x="649" y="433" width="5" height="52"/><rect x="664" y="416" width="1" height="68"/><rect x="662" y="450" width="5" height="18"/><rect x="669" y="450" width="5" height="18"/><rect x="707" y="398" width="5" height="19"/><rect x="735" y="364" width="1" height="52"/><rect x="733" y="381" width="5" height="36"/><rect x="752" y="381" width="5" height="18"/><rect x="761" y="398" width="1" height="86"/><rect x="759" y="398" width="5" height="53"/><rect x="817" y="467" width="5" height="35"/><rect x="838" y="484" width="1" height="52"/><rect x="836" y="484" width="5" height="36"/><rect x="844" y="519" width="1" height="51"/><rect x="842" y="519" width="5" height="18"/><rect x="864" y="450" width="1" height="69"/><rect x="862" y="484" width="5" height="18"/><rect x="881" y="450" width="5" height="35"/><rect x="907" y="416" width="5" height="18"/><rect x="932" y="364" width="5" height="18"/><rect x="941" y="381" width="1" height="35"/><rect x="939" y="398" width="5" height="19"/><rect x="958" y="416" width="5" height="35"/><rect x="971" y="381" width="5" height="18"/><rect x="1010" y="330" width="5" height="18"/><rect x="1022" y="347" width="5" height="35"/><rect x="1029" y="381" width="5" height="18"/><rect x="1037" y="398" width="1" height="35"/><rect x="1035" y="398" width="5" height="19"/><rect x="1070" y="330" width="1" height="34"/><rect x="1068" y="347" width="5" height="18"/><rect x="1089" y="278" width="1" height="52"/><rect x="1087" y="313" width="5" height="18"/><rect x="1095" y="313" width="1" height="34"/><rect x="1093" y="313" width="5" height="18"/><rect x="1127" y="72" width="1" height="69"/><rect x="1125" y="107" width="5" height="35"/><rect x="1134" y="124" width="1" height="86"/><rect x="1132" y="158" width="5" height="53"/><rect x="1140" y="175" width="1" height="69"/><rect x="1138" y="193" width="5" height="18"/><rect x="1147" y="175" width="1" height="69"/><rect x="1145" y="193" width="5" height="52"/><rect x="1153" y="244" width="1" height="103"/><rect x="1151" y="244" width="5" height="87"/><rect x="1185" y="124" width="1" height="86"/><rect x="1183" y="158" width="5" height="18"/><rect x="1192" y="193" width="1" height="85"/><rect x="1190" y="210" width="5" height="52"/><rect x="1205" y="261" width="1" height="86"/><rect x="1203" y="278" width="5" height="70"/><rect x="1218" y="244" width="1" height="69"/><rect x="1216" y="295" width="5" height="19"/><rect x="1224" y="313" width="1" height="51"/><rect x="1222" y="313" width="5" height="35"/><rect x="1230" y="347" width="1" height="69"/><rect x="1228" y="347" width="5" height="52"/><rect x="1248" y="347" width="5" height="35"/><rect x="1263" y="364" width="1" height="34"/><rect x="1261" y="364" width="5" height="18"/></g>
</svg>
<div class="abs btn"></div>
<svg class="chart" width="1406" height="770" viewBox="0 0 1406 770">
<!-- flash icon -->
<circle cx="1275.7" cy="716.5" r="14.1" fill="#fff"/>
<circle cx="1275.7" cy="716.5" r="12.1" fill="#fff" stroke="#9c27b0" stroke-width="2"/>
<path d="M1279.8 709.9 L1269.3 717.4 L1275.2 717 L1271.7 723.2 L1282 715.6 L1276.2 716 Z" fill="#9c27b0"/>
<!-- settings hex -->
<path d="M1372.7 743.6 L1381.3 743.6 L1385.6 751.2 L1381.3 758.8 L1372.7 758.8 L1368.4 751.2 Z" fill="none" stroke="#131722" stroke-width="1.5" stroke-linejoin="round"/>
<circle cx="1377" cy="751.2" r="2.6" fill="none" stroke="#131722" stroke-width="1.5"/>
<!-- TV logo mark -->
<g stroke="#fff" stroke-width="4" stroke-linejoin="round" fill="#fff">
<path d="M13.3 697.2 H27.9 V714.7 H20.3 V702.6 H13.3 Z"/>
<circle cx="33.6" cy="700.2" r="2.9"/>
<path d="M39.9 697.2 H50.2 L43 714.7 H34.7 Z"/>
</g>
<g fill="#131722">
<path d="M13.3 697.2 H27.9 V714.7 H20.3 V702.6 H13.3 Z"/>
<circle cx="33.6" cy="700.2" r="2.9"/>
<path d="M39.9 697.2 H50.2 L43 714.7 H34.7 Z"/>
</g>
<!-- gold icon -->
<circle cx="20.5" cy="19" r="11.4" fill="#d69b08"/>
<g fill="#fff">
<path d="M18.5 14 H22.8 L25.1 17.7 H16.1 Z"/>
<path d="M14.6 19.1 H17.9 L20 23 H12 Z"/>
<path d="M23.2 19.1 H26.7 L29 23 H21 Z"/>
</g>
<!-- chevron -->
<path d="M22 122.3 L27 117.6 L32 122.3" fill="none" stroke="#131722" stroke-width="1.7"/>
</svg>
<div class="abs title"><span class="t1">Gold Futures</span><span class="t2"> <b>·</b> 1 <b>·</b> </span><span class="t3">COMEX</span></div>
<div class="abs pill"><i></i><b>D</b></div>
<div class="abs stats"><i>O</i>1971.6&nbsp; <i>H</i>1971.8&nbsp; <i>L</i>1971.5&nbsp; <i>C</i>1971.8&nbsp; +0.3 (+0.02%)</div>
<div class="abs box bid">1971.7</div>
<div class="abs spr">0.2</div>
<div class="abs box ask">1971.9</div>
<div class="abs vol">Vol<span>45</span></div>
<div class="pl" style="top:663.9px">1969.5</div>
<div class="pl" style="top:578.1px">1970.0</div>
<div class="pl" style="top:492.3px">1970.5</div>
<div class="pl" style="top:406.4px">1971.0</div>
<div class="pl" style="top:320.6px">1971.5</div>
<div class="pl" style="top:234.8px">1972.0</div>
<div class="pl" style="top:149.0px">1972.5</div>
<div class="pl" style="top:63.1px">1973.0</div>

<div class="abs plast"><b>1971.8</b><span>00:12</span></div>
<div class="abs vlast">45</div>
<div class="tl" style="left:-28.8px">22:00</div>
<div class="tl" style="left:164.3px">22:30</div>
<div class="tl" style="left:350.9px">23:00</div>
<div class="tl" style="left:524.7px">23:30</div>
<div class="tl b" style="left:698.4px">4</div>
<div class="tl" style="left:891.5px">00:30</div>
<div class="tl" style="left:1084.5px">01:00</div>
<div class="tl" style="left:1277.6px">01:30</div>

<div class="abs tv">TradingView</div>
</body></html>
